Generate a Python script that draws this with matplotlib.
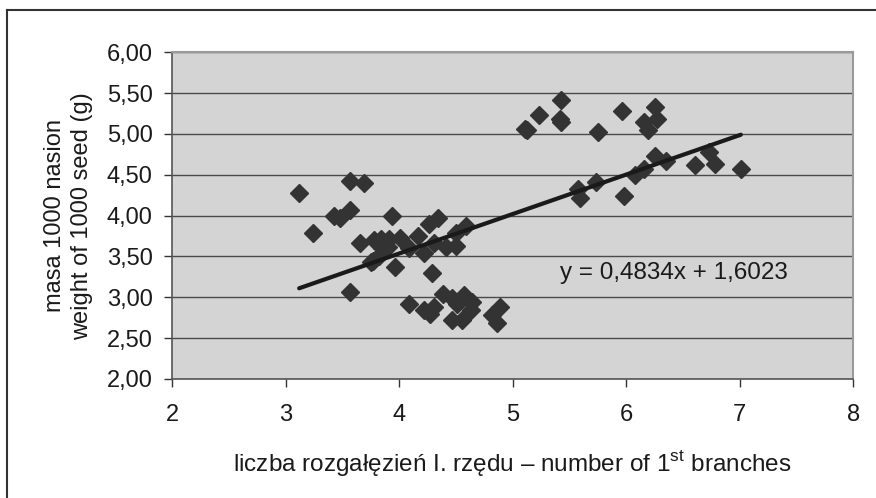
import numpy as np
import matplotlib
matplotlib.use("Agg")
import matplotlib.pyplot as plt

plt.rcParams['font.family'] = ['Liberation Sans', 'DejaVu Sans']
plt.rcParams['mathtext.fontset'] = 'custom'
plt.rcParams['mathtext.rm'] = 'Liberation Sans'

# number of 1st order branches vs 1000 seed weight
branches = [3.12, 3.24, 3.43, 3.48, 3.57, 3.57, 3.57, 3.69, 3.66,
            3.78, 3.84, 3.91, 4.01, 3.85, 3.90, 3.77, 3.75, 3.82,
            3.94, 4.26, 4.34, 4.17, 4.09, 4.22, 4.31, 3.96, 4.29,
            4.41, 4.50, 4.50, 4.59, 4.09, 4.22, 4.31, 4.27,
            4.39, 4.47, 4.57, 4.64, 4.63, 4.51, 4.47, 4.55,
            4.89, 4.82, 4.86,
            5.11, 5.13, 5.23, 5.43, 5.42, 5.43, 5.75, 5.96, 6.25, 6.16, 6.27, 6.19,
            5.58, 5.59, 5.73, 5.98, 6.08, 6.16, 6.25, 6.35, 6.61, 6.73, 6.78, 7.01]
seed_mass = [4.28, 3.79, 3.99, 3.97, 4.43, 4.07, 3.07, 4.40, 3.66,
             3.70, 3.72, 3.72, 3.73, 3.60, 3.62, 3.45, 3.43, 3.50,
             3.99, 3.90, 3.97, 3.75, 3.60, 3.54, 3.66, 3.37, 3.30,
             3.61, 3.63, 3.79, 3.87, 2.92, 2.84, 2.88, 2.79,
             3.04, 2.99, 3.03, 2.94, 2.84, 2.92, 2.72, 2.72,
             2.88, 2.78, 2.69,
             5.06, 5.05, 5.23, 5.41, 5.18, 5.15, 5.02, 5.28, 5.33, 5.15, 5.18, 5.05,
             4.32, 4.21, 4.41, 4.24, 4.50, 4.57, 4.73, 4.67, 4.62, 4.78, 4.63, 4.57]

slope = 0.4834
intercept = 1.6023

fig = plt.figure(figsize=(8.76, 4.98), dpi=100)
ax = fig.add_axes([0.1963, 0.239, 0.7778, 0.656])
ax.set_facecolor('#d4d4d4')

ax.plot(branches, seed_mass, linestyle='none', marker='D', markersize=9,
        color='#333333', zorder=3)

xs = np.array([min(branches), max(branches)])
ax.plot(xs, slope * xs + intercept, color='#1a1a1a', linewidth=3.0, zorder=4,
        solid_capstyle='round')

ax.text(5.42, 3.30, 'y = 0,4834x + 1,6023', fontsize=17.5, ha='left', va='center',
        color='#1a1a1a', zorder=5)

ax.set_xlim(2, 8)
ax.set_ylim(2, 6)
ax.set_xticks(range(2, 9))
ax.set_yticks(np.arange(2, 6.01, 0.5))
ax.set_yticklabels([('%.2f' % v).replace('.', ',') for v in np.arange(2, 6.01, 0.5)])
ax.yaxis.grid(True, color='#4a4a4a', linewidth=1)
ax.set_axisbelow(True)

ax.tick_params(axis='both', direction='out', length=6, width=1, color='#333333',
               labelsize=17, labelcolor='#1a1a1a')
ax.tick_params(axis='y', pad=8)
ax.tick_params(axis='x', pad=12)

for side in ['top', 'right']:
    ax.spines[side].set_color('#9a9a9a')
    ax.spines[side].set_linewidth(1.5)
for side in ['left', 'bottom']:
    ax.spines[side].set_color('#555555')
    ax.spines[side].set_linewidth(1.2)

ax.set_ylabel('masa 1000 nasion\nweight of 1000 seed (g)', fontsize=17,
              color='#1a1a1a', labelpad=10, linespacing=1.25)
ax.set_xlabel('liczba rozgałęzień I. rzędu – number of 1$^{\\mathrm{st}}$ branches',
              fontsize=17.5, color='#1a1a1a', labelpad=16)

# outer frame (top and left edges visible)
fig.add_artist(plt.Line2D([7 / 876, 1], [1 - 10 / 498, 1 - 10 / 498],
                          transform=fig.transFigure, color='#333333', linewidth=1.5))
fig.add_artist(plt.Line2D([7 / 876, 7 / 876], [0, 1 - 10 / 498],
                          transform=fig.transFigure, color='#333333', linewidth=1.5))

plt.savefig('out.png', dpi=100)
